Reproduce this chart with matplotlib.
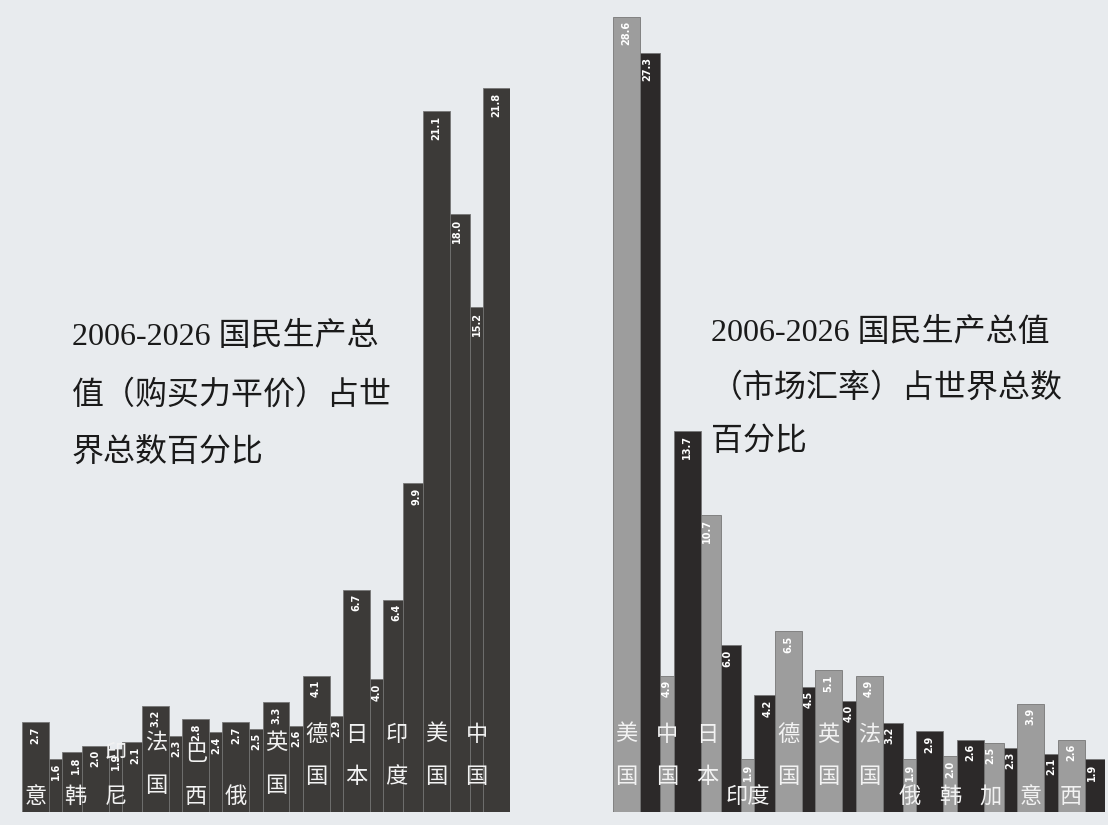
import matplotlib
matplotlib.use("Agg")
import matplotlib.pyplot as plt
from matplotlib import font_manager
import numpy as np

plt.rcParams['font.family'] = ['Noto Sans CJK SC', 'DejaVu Sans']

# 购买力平价 (left panel), sorted by 2026 share
ppp_names = ['意', '韩', '印\n尼', '法\n国', '巴\n西', '俄', '英\n国', '德\n国',
             '日\n本', '印\n度', '美\n国', '中\n国']
ppp_2006 = [2.7, 1.8, 1.9, 3.2, 2.8, 2.7, 3.3, 4.1, 6.7, 6.4, 21.1, 15.2]
ppp_2026 = [1.6, 2.0, 2.1, 2.3, 2.4, 2.5, 2.6, 2.9, 4.0, 9.9, 18.0, 21.8]

# 市场汇率 (right panel)
mkt_names = ['美\n国', '中\n国', '日\n本', '印度', '德\n国', '英\n国', '法\n国',
             '俄', '韩', '加', '意', '西']
mkt_2006 = [28.6, 4.9, 10.7, 1.9, 6.5, 5.1, 4.9, 1.9, 2.0, 2.5, 3.9, 2.6]
mkt_2026 = [27.3, 13.7, 6.0, 4.2, 4.5, 4.0, 3.2, 2.9, 2.6, 2.3, 2.1, 1.9]

left_title = "2006-2026 国民生产总\n值（购买力平价）占世\n界总数百分比"
right_title = "2006-2026 国民生产总值\n（市场汇率）占世界总数\n百分比"

BG = "#e8ebee"
DARK = "#3c3a38"
DARK2 = "#2c2929"
LIGHT = "#9d9d9d"

names = {f.name for f in font_manager.fontManager.ttflist}
num_font = 'Liberation Sans Narrow' if 'Liberation Sans Narrow' in names else 'DejaVu Sans'

W, H = 1108, 825
fig = plt.figure(figsize=(W / 100, H / 100), dpi=100, facecolor=BG)

bar_w = 1.34  # bars overlap their neighbours, the taller one sits in front


def name_offset(nm, v):
    # stacked names sit higher on the taller bars, low on the short ones
    if '\n' not in nm or v < 3.0:
        return 3
    return 17 if v >= 3.5 else 11


def panel(rect, ymax, names_, v06, v26, c06, c26):
    ax = fig.add_axes(rect)
    ax.set_facecolor('none')
    vals = np.ravel(np.column_stack([v06, v26]))
    cols = [c06, c26] * len(v06)
    rank = np.argsort(np.argsort(vals, kind='stable'), kind='stable')
    x = np.arange(len(vals))
    for i in range(len(vals)):
        ax.bar(x[i], vals[i], width=bar_w, align='edge', color=cols[i],
               edgecolor='#777777', linewidth=0.6, zorder=2 + rank[i] * 0.1)
        ax.annotate(f"{vals[i]:.1f}", (x[i] + bar_w / 2, vals[i]),
                    xytext=(0, -3), textcoords='offset points',
                    rotation=90, ha='center', va='top', color='white',
                    fontsize=7, fontweight='bold', family=num_font, zorder=50)
    for k, nm in enumerate(names_):
        ax.annotate(nm, (2 * k + bar_w / 2, 0), xytext=(0, name_offset(nm, v06[k])),
                    textcoords='offset points', ha='center', va='bottom',
                    color='#f2f2f2', fontsize=16, linespacing=2.1, zorder=60)
    ax.axhline(0, color='#9a9a9a', lw=1.5, zorder=1)
    ax.set_xlim(0, len(vals) - 1 + bar_w)
    ax.set_ylim(0, ymax)
    ax.axis('off')
    return ax


base = 812
panel([22 / W, (H - base) / H, 488 / W, base / H], base / 33.2,
      ppp_names, ppp_2006, ppp_2026, DARK, DARK)
panel([613 / W, (H - base) / H, 492 / W, base / H], base / 27.8,
      mkt_names, mkt_2006, mkt_2026, LIGHT, DARK2)

tfam = ['Liberation Serif', 'Noto Sans CJK SC']
fig.text(72 / W, 1 - 322 / H, left_title, ha='left', va='top', fontsize=23,
         family=tfam, color='#1a1a1a', linespacing=2.18)
fig.text(711 / W, 1 - 318 / H, right_title, ha='left', va='top', fontsize=23,
         family=tfam, color='#1a1a1a', linespacing=2.06)

fig.savefig("out.png", dpi=100, facecolor=BG)
